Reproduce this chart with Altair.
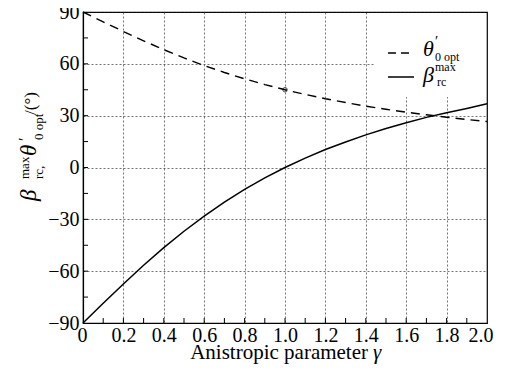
import altair as alt
import pandas as pd

# ---- data ----
gamma = [0.0, 0.1, 0.2, 0.3, 0.4, 0.5, 0.6, 0.7, 0.8, 0.9, 1.0,
         1.1, 1.2, 1.3, 1.4, 1.5, 1.6, 1.7, 1.8, 1.9, 2.0]
theta_opt = [90.0, 84.3, 78.7, 73.3, 68.2, 63.4, 59.0, 55.0, 51.3, 48.0, 45.0,
             42.3, 39.8, 37.6, 35.5, 33.7, 32.0, 30.5, 29.1, 27.8, 26.6]
beta_rc = [-90.0, -78.6, -67.4, -56.6, -46.4, -36.9, -28.1, -20.1, -12.7, -6.0, 0.0,
           5.4, 10.4, 14.8, 18.9, 22.6, 25.9, 29.0, 31.7, 34.2, 36.9]
marker_gamma = [1.0]
marker_theta = [45.0]

x_ticks = [0.1, 0.2, 0.3, 0.4, 0.5, 0.6, 0.7, 0.8, 0.9, 1.0,
           1.1, 1.2, 1.3, 1.4, 1.5, 1.6, 1.7, 1.8, 1.9]
y_ticks = [-75, -60, -45, -30, -15, 0, 15, 30, 45, 60, 75]

W, H = 404, 311
FONT = "'Liberation Serif', 'DejaVu Serif', serif"

df = pd.DataFrame({"gamma": gamma, "theta": theta_opt, "beta": beta_rc})
mk = pd.DataFrame({"gamma": marker_gamma, "theta": marker_theta})
xt = pd.DataFrame({"v": x_ticks})
yt = pd.DataFrame({"v": y_ticks})
one = pd.DataFrame({"a": [0]})

xs = alt.Scale(domain=[0, 2], nice=False, zero=False)
ys = alt.Scale(domain=[-90, 90], nice=False, zero=False)

x_axis = alt.Axis(values=[0, 0.2, 0.4, 0.6, 0.8, 1.0, 1.2, 1.4, 1.6, 1.8, 2.0],
                  labelExpr="datum.value == 0 ? '0' : format(datum.value, '.1f')",
                  title=None, ticks=False, labelPadding=2, labelFlush=True,
                  labelFlushOffset=6,
                  labelOverlap=False, labelFont=FONT, labelFontSize=20)
y_axis = alt.Axis(values=[-90, -60, -30, 0, 30, 60, 90], title=None,
                  ticks=False, labelPadding=4, labelOverlap=False,
                  labelFont=FONT, labelFontSize=20)

base = alt.Chart(df)
theta_line = base.mark_line(color="black", strokeWidth=1.4, strokeDash=[9, 6]).encode(
    x=alt.X("gamma:Q", scale=xs, axis=x_axis),
    y=alt.Y("theta:Q", scale=ys, axis=y_axis),
)
beta_line = base.mark_line(color="black", strokeWidth=1.5).encode(
    x=alt.X("gamma:Q", scale=xs),
    y=alt.Y("beta:Q", scale=ys),
)
marker = alt.Chart(mk).mark_point(shape="circle", size=20, color="black",
                                  filled=False, strokeWidth=1).encode(
    x=alt.X("gamma:Q", scale=xs), y=alt.Y("theta:Q", scale=ys))

xtick = alt.Chart(xt).mark_rule(color="black", strokeWidth=1).encode(
    x=alt.X("v:Q", scale=xs), y=alt.value(H), y2=alt.value(H - 5))
ytick = alt.Chart(yt).mark_rule(color="black", strokeWidth=1).encode(
    y=alt.Y("v:Q", scale=ys), x=alt.value(0), x2=alt.value(5))

# white box behind the legend (hides the grid there)
leg_bg = alt.Chart(one).mark_rect(color="white").encode(
    x=alt.value(292), x2=alt.value(403), y=alt.value(1), y2=alt.value(85))


def txt(s, x, y, size, italic=False, angle=0, align="left"):
    kw = dict(font=FONT, fontSize=size, color="black", align=align,
              baseline="alphabetic")
    if italic:
        kw["fontStyle"] = "italic"
    if angle:
        kw["angle"] = angle
    return alt.Chart(one).mark_text(text=s, **kw).encode(
        x=alt.value(x), y=alt.value(y))


texts = [
    # x axis title
    txt("Anistropic parameter", 285, 347, 21, align="right"),
    txt("γ", 290, 347, 21, italic=True),
    # y axis title (rotated, composed)
    txt("β", -47, 189, 23, italic=True, angle=270),
    txt("max", -54, 167, 13, angle=270),
    txt("rc,", -40, 167, 13, angle=270),
    txt("θ", -47, 144, 23, italic=True, angle=270),
    txt("′", -53, 129, 16, angle=270),
    txt("0 opt", -40, 128, 13, angle=270),
    txt("/(°)", -47, 103, 17, angle=270),
    # legend
    txt("θ", 340, 44, 22, italic=True),
    txt("′", 352, 34, 15),
    txt("0 opt", 352, 49, 12),
    txt("β", 340, 70, 22, italic=True),
    txt("max", 352, 59, 12),
    txt("rc", 354, 74, 12),
]

leg_dash = alt.Chart(one).mark_rule(color="black", strokeWidth=1.4, strokeDash=[8, 5]).encode(
    x=alt.value(305), x2=alt.value(331), y=alt.value(41))
leg_solid = alt.Chart(one).mark_rule(color="black", strokeWidth=1.5).encode(
    x=alt.value(305), x2=alt.value(331), y=alt.value(65))

chart = alt.layer(leg_bg, theta_line, beta_line, marker, xtick, ytick, leg_dash, leg_solid, *texts).properties(
    width=W, height=H,
    autosize=alt.AutoSizeParams(type="none"),
    padding={"left": 75, "top": 4, "right": 11, "bottom": 42},
    background="white",
).configure_view(
    stroke="black", strokeWidth=1.2
).configure_axis(
    domainColor="black", domainWidth=1.2,
    labelColor="black",
    grid=True, gridColor="#222222", gridDash=[2, 2], gridWidth=0.7, gridOpacity=0.9,
)

chart.save("out.html", embed_options={"renderer": "svg", "actions": False})
